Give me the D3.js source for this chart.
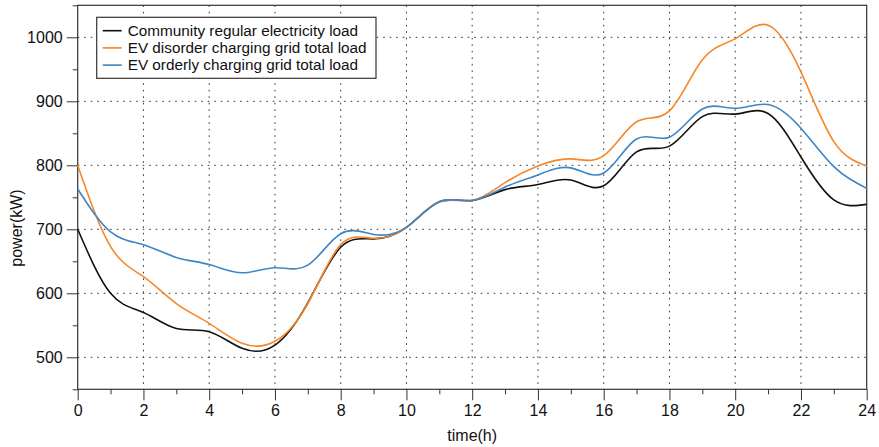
<!DOCTYPE html>
<html>
<head>
<meta charset="utf-8">
<script src="https://cdn.jsdelivr.net/npm/d3@7"></script>
<style>
  body { margin: 0; background: #fff; }
  svg { display: block; font-family: "Liberation Sans", Arial, Helvetica, sans-serif; }
</style>
</head>
<body>
<div id="container"></div>
<script>
/* CONSTANTS AND GLOBALS */
const width = 879
const height = 447
const margin = { top: 5.3, bottom: 57.7, left: 77.7, right: 12.3 }

// hour of day
const hours = [0, 1, 2, 3, 4, 5, 6, 7, 8, 9, 10, 11, 12, 13, 14, 15, 16, 17, 18, 19, 20, 21, 22, 23, 24]
const communityLoad = [700, 600, 570, 545, 540, 514, 519, 585, 672, 685, 703, 743, 745, 762, 770, 777, 768, 821, 830, 876, 880, 881, 813, 746, 739]
const disorderLoad = [800, 673, 626, 584, 553, 522, 525, 584, 676, 686, 703, 743, 745, 773, 799, 810, 815, 868, 885, 965, 998, 1019, 946, 837, 799]
const orderlyLoad = [763, 696, 676, 656, 645, 632, 640, 644, 693, 692, 703, 743, 745, 766, 785, 796, 788, 841, 844, 888, 889, 895, 858, 798, 764]

const seriesNames = ["Community regular electricity load", "EV disorder charging grid total load", "EV orderly charging grid total load"]
const seriesColors = ["#111111", "#f5862a", "#3d86c6"]

const xMajor = [0, 2, 4, 6, 8, 10, 12, 14, 16, 18, 20, 22, 24]
const xMinor = [1, 3, 5, 7, 9, 11, 13, 15, 17, 19, 21, 23]
const yMajor = [500, 600, 700, 800, 900, 1000]
const yMinor = [450, 550, 650, 750, 850, 950, 1050]

const series = [communityLoad, disorderLoad, orderlyLoad].map((vals, i) => ({
  name: seriesNames[i],
  color: seriesColors[i],
  values: hours.map((h, j) => ({ hour: h, power: vals[j] }))
}))

// SCALES
const xScale = d3.scaleLinear()
  .domain([0, 24])
  .range([margin.left, width - margin.right])

const yScale = d3.scaleLinear()
  .domain([450, 1050])
  .range([height - margin.bottom, margin.top])

// CREATE SVG ELEMENT
const svg = d3.select("#container")
  .append("svg")
  .attr("width", width)
  .attr("height", height)

// GRID (dotted, major ticks only)
const grid = svg.append("g").attr("class", "grid")
  .attr("stroke", "#333")
  .attr("stroke-width", 1)
  .attr("stroke-dasharray", "1.6,4.9")

grid.selectAll(".vgrid")
  .data(xMajor.slice(1, -1))
  .join("line")
  .attr("x1", d => xScale(d)).attr("x2", d => xScale(d))
  .attr("y1", yScale(1050)).attr("y2", yScale(450))

grid.selectAll(".hgrid")
  .data(yMajor)
  .join("line")
  .attr("x1", xScale(0)).attr("x2", xScale(24))
  .attr("y1", d => yScale(d)).attr("y2", d => yScale(d))

// BUILD AND CALL AXES
function styleAxis(g) {
  g.select(".domain").remove()
  g.selectAll(".tick line").attr("stroke", "#333")
  g.selectAll(".tick text")
    .attr("fill", "#111")
    .style("font-size", "16px")
    .style("font-family", "'Liberation Sans', Arial, Helvetica, sans-serif")
}

svg.append("g")
  .attr("transform", `translate(0, ${height - margin.bottom})`)
  .call(d3.axisBottom(xScale).tickValues(xMajor).tickSize(11).tickPadding(4).tickFormat(d3.format("d")))
  .call(styleAxis)

svg.append("g")
  .attr("transform", `translate(0, ${height - margin.bottom})`)
  .call(d3.axisBottom(xScale).tickValues(xMinor).tickSize(5).tickFormat(""))
  .call(styleAxis)

svg.append("g")
  .attr("transform", `translate(${margin.left}, 0)`)
  .call(d3.axisLeft(yScale).tickValues(yMajor).tickSize(11).tickPadding(4).tickFormat(d3.format("d")))
  .call(styleAxis)

svg.append("g")
  .attr("transform", `translate(${margin.left}, 0)`)
  .call(d3.axisLeft(yScale).tickValues(yMinor).tickSize(5).tickFormat(""))
  .call(styleAxis)

// frame around the plot
svg.append("rect")
  .attr("x", xScale(0))
  .attr("y", yScale(1050))
  .attr("width", xScale(24) - xScale(0))
  .attr("height", yScale(450) - yScale(1050))
  .attr("fill", "none")
  .attr("stroke", "#333")
  .attr("stroke-width", 1.2)

// AXIS LABELS
svg.append("text")
  .attr("x", (xScale(0) + xScale(24)) / 2)
  .attr("y", 441)
  .attr("text-anchor", "middle")
  .attr("fill", "#111")
  .style("font-size", "16px")
  .text("time(h)")

svg.append("text")
  .attr("transform", `translate(22, 228) rotate(-90)`)
  .attr("text-anchor", "middle")
  .attr("fill", "#111")
  .style("font-size", "16px")
  .text("power(kW)")

// LINE GENERATOR FUNCTION (smooth spline through the hourly points)
const line = d3.line()
  .x(d => xScale(d.hour))
  .y(d => yScale(d.power))
  .curve(d3.curveNatural)

// DRAW LINES
svg.selectAll(".line")
  .data(series)
  .join("path")
  .attr("class", "line")
  .attr("fill", "none")
  .attr("stroke", d => d.color)
  .attr("stroke-width", 1.6)
  .attr("d", d => line(d.values))

// LEGEND
const legend = svg.append("g").attr("class", "legend")

legend.append("rect")
  .attr("x", 96.7).attr("y", 17.3)
  .attr("width", 279.3).attr("height", 61)
  .attr("fill", "#fff")
  .attr("stroke", "#333")
  .attr("stroke-width", 1.2)

const rows = legend.selectAll(".row")
  .data(series)
  .join("g")
  .attr("class", "row")
  .attr("transform", (d, i) => `translate(0, ${30.7 + i * 17.2})`)

rows.append("line")
  .attr("x1", 102.7).attr("x2", 121.7)
  .attr("stroke", d => d.color)
  .attr("stroke-width", 1.6)

rows.append("text")
  .attr("x", 127.7)
  .attr("dy", "0.35em")
  .attr("fill", "#111")
  .style("font-size", "15.3px")
  .text(d => d.name)
</script>
</body>
</html>
